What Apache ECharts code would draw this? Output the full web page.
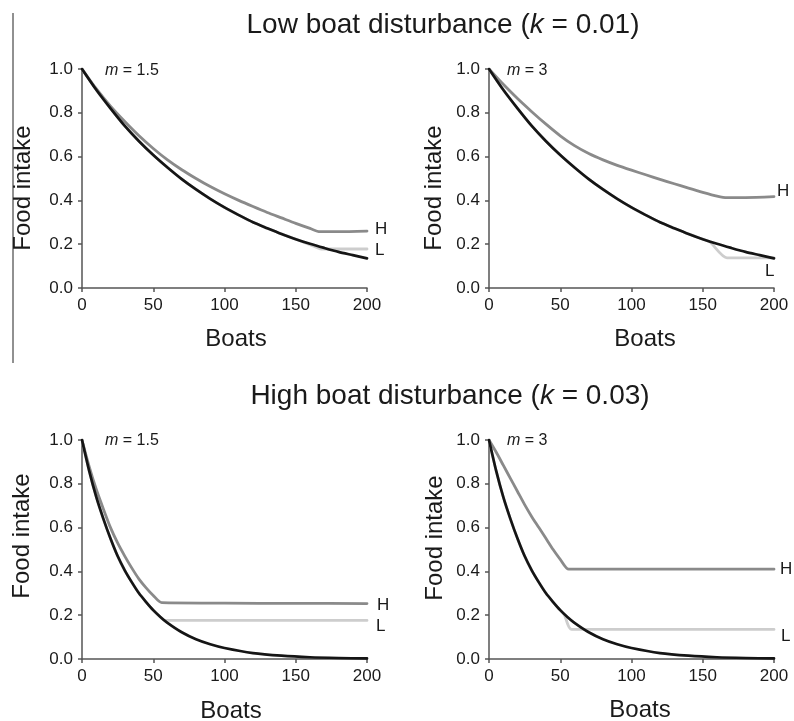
<!DOCTYPE html>
<html>
<head>
<meta charset="utf-8">
<script src="https://cdn.jsdelivr.net/npm/echarts@6/dist/echarts.min.js"></script>
<style>
  html, body { margin: 0; padding: 0; background: #fff; }
  #chart { width: 794px; height: 721px; }
</style>
</head>
<body>
<div id="chart"></div>
<script>
// Food intake vs number of boats, for two disturbance rates (k) and two
// refuge multipliers (m). Black: no refuge; H / L: high and low quality refuge.

const FONT = '"Liberation Sans", Arial, sans-serif';

// ---- x positions (boats) ----
const boatsLow = [0, 10, 20, 30, 40, 50, 60, 70, 80, 90, 100, 110, 120, 130, 140, 150, 160, 170, 180, 190, 200];
const boatsLowH = [0, 10, 20, 30, 40, 50, 60, 70, 80, 90, 100, 110, 120, 130, 140, 150, 160, 167, 180, 200];
const boatsLowL15 = [0, 10, 20, 30, 40, 50, 60, 70, 80, 90, 100, 110, 120, 130, 140, 150, 160, 168, 200];
const boatsLowL3 = [0, 10, 20, 30, 40, 50, 60, 70, 80, 90, 100, 110, 120, 130, 140, 150, 155, 167, 200];

const boatsHigh = [0, 5, 10, 15, 20, 25, 30, 35, 40, 45, 50, 55, 60, 70, 80, 90, 100, 120, 140, 160, 180, 200];
const boatsHighH = [0, 5, 10, 15, 20, 25, 30, 35, 40, 45, 50, 56, 100, 150, 200];
const boatsHighL15 = [0, 5, 10, 15, 20, 25, 30, 35, 40, 45, 50, 55, 58, 200];
const boatsHighL3 = [0, 5, 10, 15, 20, 25, 30, 35, 40, 45, 50, 53, 58, 200];

// ---- low disturbance, k = 0.01 ----
const noRefugeLow = [1.00, 0.905, 0.82, 0.74, 0.67, 0.607, 0.55, 0.497, 0.45, 0.407, 0.368, 0.333, 0.30, 0.273, 0.247, 0.223, 0.202, 0.183, 0.165, 0.15, 0.135];
const highLowM15 = [1.00, 0.91, 0.83, 0.76, 0.695, 0.637, 0.585, 0.54, 0.50, 0.463, 0.43, 0.40, 0.372, 0.345, 0.32, 0.295, 0.272, 0.257, 0.257, 0.26];
const lowLowM15 = [1.00, 0.905, 0.82, 0.74, 0.67, 0.607, 0.55, 0.497, 0.45, 0.407, 0.368, 0.333, 0.30, 0.273, 0.247, 0.223, 0.198, 0.178, 0.178];
const highLowM3 = [1.00, 0.93, 0.865, 0.805, 0.748, 0.695, 0.65, 0.614, 0.585, 0.56, 0.538, 0.517, 0.496, 0.476, 0.456, 0.437, 0.42, 0.413, 0.413, 0.417];
const lowLowM3 = [1.00, 0.905, 0.82, 0.74, 0.67, 0.607, 0.55, 0.497, 0.45, 0.407, 0.368, 0.333, 0.30, 0.273, 0.247, 0.223, 0.21, 0.138, 0.138];

// ---- high disturbance, k = 0.03 ----
const noRefugeHigh = [1.00, 0.86, 0.74, 0.64, 0.55, 0.47, 0.405, 0.35, 0.30, 0.26, 0.223, 0.192, 0.165, 0.122, 0.09, 0.067, 0.05, 0.027, 0.015, 0.008, 0.0045, 0.0025];
const highHighM15 = [1.00, 0.88, 0.775, 0.685, 0.60, 0.53, 0.47, 0.415, 0.365, 0.325, 0.29, 0.257, 0.255, 0.254, 0.253];
const lowHighM15 = [1.00, 0.86, 0.74, 0.64, 0.55, 0.47, 0.405, 0.35, 0.30, 0.26, 0.223, 0.192, 0.176, 0.176];
const highHighM3 = [1.00, 0.945, 0.885, 0.825, 0.765, 0.705, 0.65, 0.60, 0.55, 0.50, 0.455, 0.41, 0.41, 0.41, 0.41];
const lowHighM3 = [1.00, 0.86, 0.74, 0.64, 0.55, 0.47, 0.405, 0.35, 0.30, 0.26, 0.223, 0.20, 0.135, 0.135];

// ---- axis ticks ----
const boatTicks = [0, 50, 100, 150, 200];
const intakeTicks = [0.0, 0.2, 0.4, 0.6, 0.8, 1.0];

const panelTitles = ['Low boat disturbance', 'High boat disturbance'];
const kValues = ['0.01', '0.03'];
const mValues = ['1.5', '3', '1.5', '3'];

// ---- layout ----
const panels = [
  { left: 82, top: 69 },
  { left: 489, top: 69 },
  { left: 82, top: 440 },
  { left: 489, top: 440 }
];
const PW = 285, PH = 219;

const AXIS_COLOR = '#555';
const TEXT_COLOR = '#1a1a1a';
const C_NONE = '#151515';
const C_HIGH = '#8a8a8a';
const C_LOW = '#cdcdcd';

const zip = (xs, ys) => xs.map((x, i) => [x, ys[i]]);

const grids = panels.map(p => ({ left: p.left, top: p.top, width: PW, height: PH }));

const xAxes = panels.map((p, i) => ({
  type: 'value', gridIndex: i,
  min: boatTicks[0], max: boatTicks[boatTicks.length - 1], interval: boatTicks[1] - boatTicks[0],
  axisLine: { show: true, lineStyle: { color: AXIS_COLOR, width: 1.5 } },
  axisTick: { show: true, length: 4, lineStyle: { color: AXIS_COLOR, width: 1.5 } },
  splitLine: { show: false },
  axisLabel: { color: TEXT_COLOR, fontFamily: FONT, fontSize: 17, margin: 9 }
}));

const yAxes = panels.map((p, i) => ({
  type: 'value', gridIndex: i,
  min: intakeTicks[0], max: intakeTicks[intakeTicks.length - 1], interval: intakeTicks[1] - intakeTicks[0],
  axisLine: { show: true, lineStyle: { color: AXIS_COLOR, width: 1.5 } },
  axisTick: { show: true, length: 4, lineStyle: { color: AXIS_COLOR, width: 1.5 } },
  splitLine: { show: false },
  axisLabel: { color: TEXT_COLOR, fontFamily: FONT, fontSize: 17, margin: 9,
    formatter: v => v.toFixed(1) }
}));

function line(idx, data, color, width, endText, offset) {
  const s = {
    type: 'line', xAxisIndex: idx, yAxisIndex: idx,
    data: data, showSymbol: false, symbol: 'none',
    smooth: 0.25,
    lineStyle: { color: color, width: width, cap: 'round', join: 'round' },
    z: 2
  };
  if (endText) {
    s.endLabel = {
      show: true, formatter: endText, color: TEXT_COLOR,
      fontFamily: FONT, fontSize: 17, offset: offset
    };
  }
  return s;
}

const series = [
  // k = 0.01, m = 1.5
  line(0, zip(boatsLowL15, lowLowM15), C_LOW, 2.8, 'L', [0, 1]),
  line(0, zip(boatsLowH, highLowM15), C_HIGH, 2.8, 'H', [0, -2]),
  line(0, zip(boatsLow, noRefugeLow), C_NONE, 2.7),
  // k = 0.01, m = 3
  line(1, zip(boatsLowL3, lowLowM3), C_LOW, 2.8, 'L', [-17, 14]),
  line(1, zip(boatsLowH, highLowM3), C_HIGH, 2.8, 'H', [-5, -5]),
  line(1, zip(boatsLow, noRefugeLow), C_NONE, 2.7),
  // k = 0.03, m = 1.5
  line(2, zip(boatsHighL15, lowHighM15), C_LOW, 2.8, 'L', [1, 6]),
  line(2, zip(boatsHighH, highHighM15), C_HIGH, 2.8, 'H', [2, 2]),
  line(2, zip(boatsHigh, noRefugeHigh), C_NONE, 2.7),
  // k = 0.03, m = 3
  line(3, zip(boatsHighL3, lowHighM3), C_LOW, 2.8, 'L', [-1, 7]),
  line(3, zip(boatsHighH, highHighM3), C_HIGH, 2.8, 'H', [-2, 0]),
  line(3, zip(boatsHigh, noRefugeHigh), C_NONE, 2.7)
];

// ---- text decorations ----
const graphics = [];

// row titles with italic k
const titlePos = [{ x: 443, y: 25 }, { x: 450, y: 396 }];
titlePos.forEach((t, i) => {
  graphics.push({
    type: 'text', x: t.x, y: t.y,
    style: {
      text: panelTitles[i] + ' ({i|k} = ' + kValues[i] + ')',
      fill: TEXT_COLOR, font: '28px ' + FONT,
      align: 'center', verticalAlign: 'middle',
      rich: { i: { fontStyle: 'italic', fontSize: 28, fontFamily: FONT, fill: TEXT_COLOR } }
    }
  });
});

// m labels inside each panel
const mPos = [{ x: 105, y: 71 }, { x: 507, y: 71 }, { x: 105, y: 441 }, { x: 507, y: 441 }];
mPos.forEach((p, i) => {
  graphics.push({
    type: 'text', x: p.x, y: p.y,
    style: {
      text: '{i|m} = ' + mValues[i],
      fill: TEXT_COLOR, font: '16px ' + FONT,
      align: 'left', verticalAlign: 'middle',
      rich: { i: { fontStyle: 'italic', fontSize: 16, fontFamily: FONT, fill: TEXT_COLOR } }
    }
  });
});

// axis titles
const yTitlePos = [{ x: 23, y: 188 }, { x: 434, y: 188 }, { x: 22, y: 536 }, { x: 435, y: 538 }];
yTitlePos.forEach(p => {
  graphics.push({
    type: 'text', x: p.x, y: p.y, rotation: Math.PI / 2,
    style: { text: 'Food intake', fill: TEXT_COLOR, font: '24px ' + FONT,
      align: 'center', verticalAlign: 'middle' }
  });
});
const xTitlePos = [{ x: 236, y: 339 }, { x: 645, y: 339 }, { x: 231, y: 711 }, { x: 640, y: 710 }];
xTitlePos.forEach(p => {
  graphics.push({
    type: 'text', x: p.x, y: p.y,
    style: { text: 'Boats', fill: TEXT_COLOR, font: '24px ' + FONT,
      align: 'center', verticalAlign: 'middle' }
  });
});

// thin rule at the left of the upper row
graphics.push({
  type: 'line', shape: { x1: 13, y1: 13, x2: 13, y2: 363 },
  style: { stroke: '#222', lineWidth: 1 }
});

const chart = echarts.init(document.getElementById('chart'), null, { renderer: 'canvas' });
chart.setOption({
  animation: false,
  backgroundColor: '#fff',
  grid: grids,
  xAxis: xAxes,
  yAxis: yAxes,
  series: series,
  graphic: graphics
});
</script>
</body>
</html>
